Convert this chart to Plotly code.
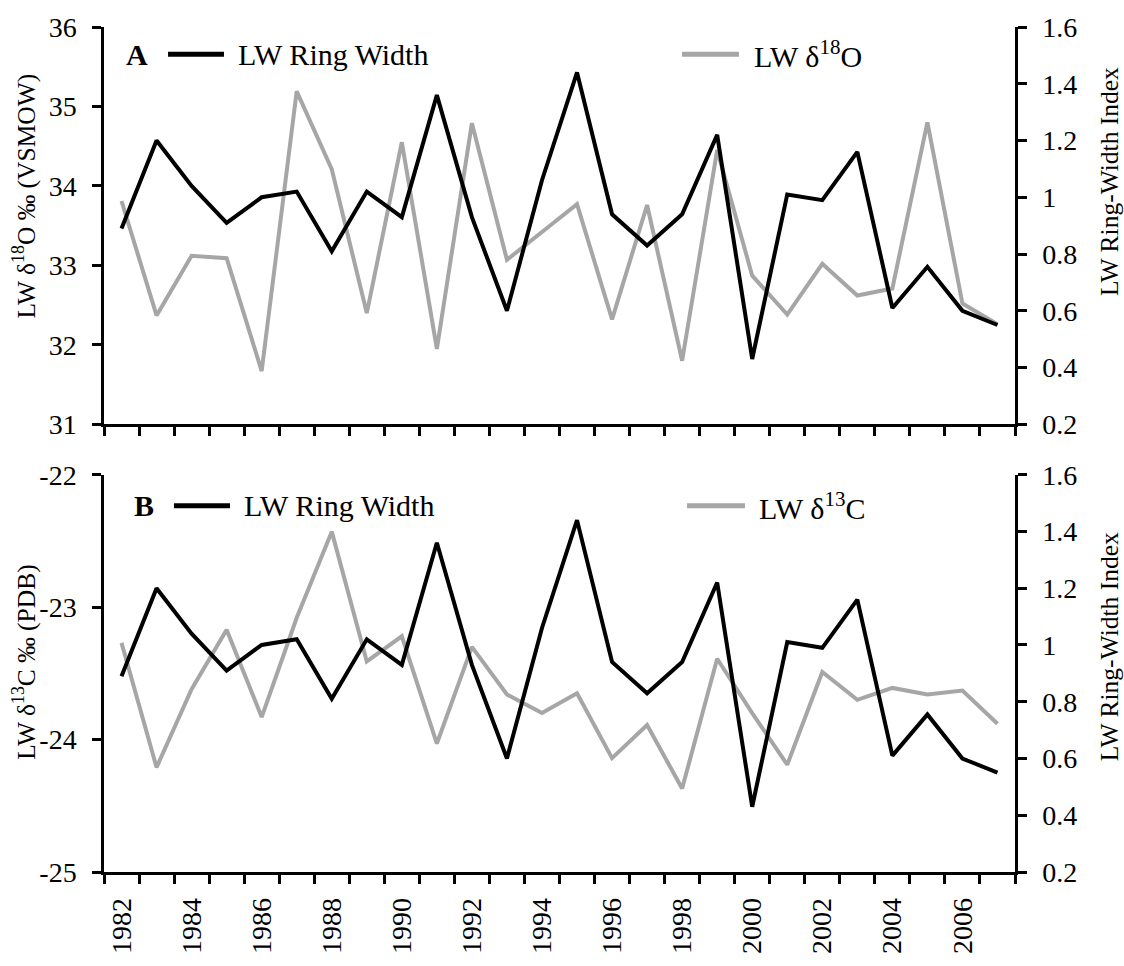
import plotly.graph_objects as go

years = list(range(1982, 2008))
ring_width = [0.89, 1.20, 1.04, 0.91, 1.00, 1.02, 0.81, 1.02, 0.93, 1.36, 0.93, 0.60, 1.06,
              1.44, 0.94, 0.83, 0.94, 1.22, 0.43, 1.01, 0.99, 1.16, 0.61, 0.755, 0.60, 0.55]
d18O = [33.81, 32.37, 33.12, 33.09, 31.67, 35.19, 34.21, 32.40, 34.55, 31.95, 34.79, 33.07, 33.42,
        33.77, 32.32, 33.76, 31.80, 34.45, 32.87, 32.38, 33.02, 32.62, 32.71, 34.80, 32.52, 32.26]
d13C = [-23.27, -24.21, -23.62, -23.17, -23.83, -23.08, -22.43, -23.41, -23.22, -24.03, -23.30, -23.66, -23.80,
        -23.65, -24.14, -23.89, -24.37, -23.39, -23.80, -24.19, -23.49, -23.70, -23.61, -23.66, -23.63, -23.88]

o18_ticks = [31, 32, 33, 34, 35, 36]
c13_ticks = [-25, -24, -23, -22]
c13_labels = ["-25", "-24", "-23", "-22"]
rw_ticks = [0.2, 0.4, 0.6, 0.8, 1.0, 1.2, 1.4, 1.6]
rw_labels = ["0.2", "0.4", "0.6", "0.8", "1", "1.2", "1.4", "1.6"]
year_labels = list(range(1982, 2008, 2))
boundaries = [y - 0.5 for y in range(1982, 2009)]

BLACK = "#000000"
GRAY = "#A6A6A6"
FONT = "Liberation Serif, Times New Roman, serif"
TICKF = dict(family=FONT, size=28, color="black")
TITLEF = dict(family=FONT, size=25.5, color="black")

fig = go.Figure()
fig.add_trace(go.Scatter(x=years, y=d18O, mode="lines", line=dict(color=GRAY, width=4),
                         xaxis="x", yaxis="y", showlegend=False))
fig.add_trace(go.Scatter(x=years, y=ring_width, mode="lines", line=dict(color=BLACK, width=4),
                         xaxis="x", yaxis="y2", showlegend=False))
fig.add_trace(go.Scatter(x=years, y=d13C, mode="lines", line=dict(color=GRAY, width=4),
                         xaxis="x2", yaxis="y3", showlegend=False))
fig.add_trace(go.Scatter(x=years, y=ring_width, mode="lines", line=dict(color=BLACK, width=4),
                         xaxis="x2", yaxis="y4", showlegend=False))

top_dom = [1 - 410 / 872, 1]
bot_dom = [0, 410 / 872]

xcommon = dict(range=[1981.5, 2007.5], showline=True, linecolor="black", linewidth=2.5,
               showgrid=False, zeroline=False, tickvals=year_labels, ticks="",
               minor=dict(tickvals=boundaries, ticks="outside", ticklen=9, tickwidth=2.5,
                          tickcolor="black", showgrid=False),
               tickfont=TICKF, tickangle=-90, ticklabelstandoff=12)

ycommon = dict(showline=True, linecolor="black", linewidth=2.5, showgrid=False, zeroline=False,
               ticks="outside", ticklen=9, tickwidth=2.5, tickcolor="black", tickfont=TICKF,
               ticklabelstandoff=10)

fig.update_layout(
    width=1124, height=966,
    margin=dict(l=104, r=109, t=20, b=74),
    paper_bgcolor="white", plot_bgcolor="white",
    font=dict(family=FONT, color="black"),
    xaxis=dict(xcommon, anchor="y", domain=[0, 1], showticklabels=False),
    xaxis2=dict(xcommon, anchor="y3", domain=[0, 1], showticklabels=True),
    yaxis=dict(ycommon, domain=top_dom, range=[31, 36], tickvals=o18_ticks, anchor="x"),
    yaxis2=dict(ycommon, overlaying="y", side="right", range=[0.2, 1.6], tickvals=rw_ticks,
                ticktext=rw_labels, anchor="x"),
    yaxis3=dict(ycommon, domain=bot_dom, range=[-25, -22], tickvals=c13_ticks, ticktext=c13_labels,
                anchor="x2"),
    yaxis4=dict(ycommon, overlaying="y3", side="right", range=[0.2, 1.6], tickvals=rw_ticks,
                ticktext=rw_labels, anchor="x2"),
    yaxis5=dict(overlaying="y", side="right", range=[0.2, 1.6], tickvals=rw_ticks, ticks="inside",
                ticklen=9, tickwidth=2.5, tickcolor="black", showticklabels=False, showline=False,
                showgrid=False, zeroline=False, anchor="x"),
    yaxis6=dict(overlaying="y3", side="right", range=[0.2, 1.6], tickvals=rw_ticks, ticks="inside",
                ticklen=9, tickwidth=2.5, tickcolor="black", showticklabels=False, showline=False,
                showgrid=False, zeroline=False, anchor="x2"),
)

# axis titles (placed as in the reference, a little above the axis centre)
def ytitle(x, y, text):
    fig.add_annotation(xref="paper", yref="paper", x=x, y=y, text=text, textangle=-90,
                       showarrow=False, xanchor="center", yanchor="middle", font=TITLEF)

ytitle(-0.0867, 0.7993, "LW δ<sup>18</sup>O ‰ (VSMOW)")
ytitle(1.1032, 0.8165, "LW Ring-Width Index")
ytitle(-0.0867, 0.2477, "LW δ<sup>13</sup>C ‰ (PDB)")
ytitle(1.1032, 0.2661, "LW Ring-Width Index")

# legend keys (decoration)
def legend_key(x0, x1, y, color):
    fig.add_shape(type="line", xref="paper", yref="paper", x0=x0, x1=x1, y0=y, y1=y,
                  line=dict(color=color, width=5))

def label(x, y, text, bold=False, anchor="left"):
    fig.add_annotation(xref="paper", yref="paper", x=x, y=y, text=("<b>%s</b>" % text) if bold else text,
                       showarrow=False, xanchor=anchor, yanchor="middle",
                       font=dict(family=FONT, size=30, color="black"))

yA = 1 - (48 - 20) / 872
yB = 1 - (514 - 20) / 872
label(0.0362, yA, "A", bold=True, anchor="center")
legend_key(0.0703, 0.1317, yA, BLACK)
label(0.1449, yA, "LW Ring Width")
legend_key(0.6345, 0.6970, yA, GRAY)
label(0.7113, yA, "LW δ<sup>18</sup>O")

label(0.0439, yB, "B", bold=True, anchor="center")
legend_key(0.0768, 0.1383, yB, BLACK)
label(0.1515, yB, "LW Ring Width")
legend_key(0.6400, 0.7036, yB, GRAY)
label(0.7168, yB, "LW δ<sup>13</sup>C")

fig.write_html("out.html")
